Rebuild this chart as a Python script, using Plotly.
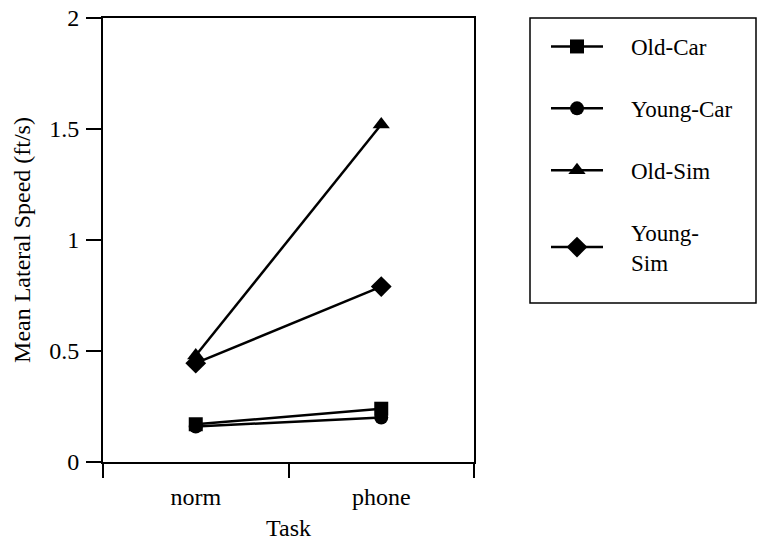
import plotly.graph_objects as go

tasks = ["norm", "phone"]
old_car = [0.17, 0.24]
young_car = [0.16, 0.20]
old_sim = [0.48, 1.52]
young_sim = [0.445, 0.79]

PAD = "\u00a0" * 4
series = [
    ("Old-Car", old_car, "square", 14),
    ("Young-Car", young_car, "circle", 14),
    ("Old-Sim", old_sim, "triangle-up", 15),
    ("Young-<br>" + PAD + "Sim", young_sim, "diamond", 16),
]

FONT = "Liberation Serif, Times New Roman, serif"

fig = go.Figure()
for i, (name, vals, sym, size) in enumerate(series):
    fig.add_trace(go.Scatter(
        x=tasks, y=vals, name=PAD + name, mode="lines+markers",
        legendgroup=f"g{i}",
        line=dict(color="black", width=2.5),
        marker=dict(symbol=sym, size=size, color="black"),
    ))

fig.update_layout(
    width=757, height=545,
    margin=dict(l=103, r=283, t=18, b=83, autoexpand=False),
    paper_bgcolor="white", plot_bgcolor="white",
    font=dict(family=FONT, size=22, color="black"),
    showlegend=True,
    legend=dict(
        x=(546 - 103) / 371, y=(462 - 25) / 444, xanchor="left", yanchor="top",
        bgcolor="rgba(0,0,0,0)", borderwidth=0,
        itemwidth=52,
        tracegroupgap=29, font=dict(size=23),
    ),
    shapes=[dict(
        type="rect", xref="paper", yref="paper",
        x0=(530 - 103) / 371, x1=(756 - 103) / 371,
        y0=(462 - 303) / 444, y1=1.0,
        line=dict(color="black", width=1.5),
    )],
)

fig.update_xaxes(
    type="category", range=[-0.5, 1.5], automargin=False,
    showline=True, linecolor="black", linewidth=2, mirror=True,
    ticks="outside", tickson="boundaries", ticklen=14, tickwidth=2,
    tickcolor="black", showgrid=False, ticklabelstandoff=12,
    tickfont=dict(size=24),
    title=dict(text="Task", standoff=10, font=dict(size=24)),
)
fig.update_yaxes(
    range=[0, 2], tickvals=[0, 0.5, 1, 1.5, 2], automargin=False,
    ticktext=["0", "0.5", "1", "1.5", "2"],
    showline=True, linecolor="black", linewidth=2, mirror=True,
    ticks="outside", ticklen=15, tickwidth=2, tickcolor="black",
    showgrid=False, zeroline=False, tickfont=dict(size=24),
    ticklabelstandoff=2,
    title=dict(text="Mean Lateral Speed (ft/s)", standoff=12, font=dict(size=24)),
)

fig.write_html("out.html")
